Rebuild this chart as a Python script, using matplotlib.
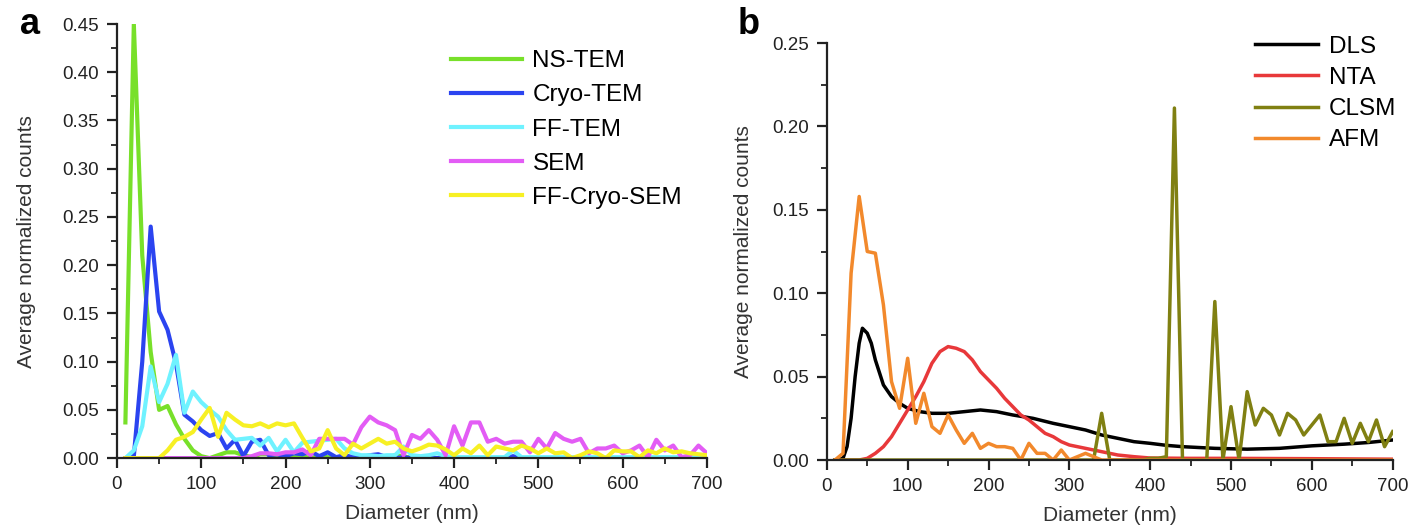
import numpy as np
import matplotlib
matplotlib.use("Agg")
import matplotlib.pyplot as plt
from matplotlib.ticker import MultipleLocator

plt.rcParams['font.family'] = ['Liberation Sans', 'DejaVu Sans']

# panel a: 10 nm bins
diam_a = list(range(10, 710, 10))

ns_tem = [0.037, 0.45, 0.21, 0.11, 0.05, 0.054, 0.035, 0.02, 0.008, 0.002,
          0.0, 0.003, 0.006, 0.006, 0.003, 0.001, 0.004, 0.004, 0.002, 0.003,
          0.001, 0.002, 0.0, 0.002, 0.001, 0.0, 0.001, 0.0, 0.0, 0.001,
          0.0, 0.0, 0.003, 0.002, 0.0, 0.0, 0.0, 0.0, 0.0, 0.0,
          0.0, 0.0, 0.0, 0.0, 0.0, 0.0, 0.0, 0.0, 0.0, 0.0,
          0.0, 0.0, 0.0, 0.0, 0.0, 0.0, 0.0, 0.0, 0.0, 0.0,
          0.0, 0.0, 0.0, 0.0, 0.0, 0.0, 0.0, 0.0, 0.0, 0.0]
cryo_tem = [0.0, 0.002, 0.10, 0.24, 0.152, 0.133, 0.098, 0.045, 0.038, 0.029,
            0.023, 0.026, 0.010, 0.019, 0.002, 0.017, 0.019, 0.003, 0.004, 0.002,
            0.005, 0.004, 0.007, 0.002, 0.006, 0.001, 0.003, 0.001, 0.001, 0.003,
            0.004, 0.001, 0.0, 0.001, 0.0, 0.0, 0.0, 0.0, 0.0, 0.0,
            0.0, 0.0, 0.0, 0.0, 0.0, 0.0, 0.002, 0.0, 0.0, 0.0,
            0.0, 0.0, 0.0, 0.0, 0.0, 0.0, 0.0, 0.0, 0.0, 0.0,
            0.0, 0.0, 0.0, 0.0, 0.0, 0.0, 0.0, 0.0, 0.0, 0.0]
ff_tem = [0.0, 0.008, 0.033, 0.095, 0.058, 0.077, 0.107, 0.047, 0.069, 0.058,
          0.050, 0.043, 0.029, 0.019, 0.020, 0.021, 0.013, 0.021, 0.007, 0.019,
          0.006, 0.016, 0.017, 0.018, 0.019, 0.020, 0.010, 0.005, 0.003, 0.003,
          0.002, 0.003, 0.003, 0.012, 0.003, 0.002, 0.003, 0.005, 0.002, 0.001,
          0.001, 0.001, 0.001, 0.001, 0.001, 0.001, 0.008, 0.001, 0.001, 0.001,
          0.001, 0.001, 0.001, 0.001, 0.001, 0.001, 0.001, 0.001, 0.001, 0.001,
          0.001, 0.001, 0.001, 0.001, 0.001, 0.001, 0.001, 0.001, 0.001, 0.001]
sem = [0.0, 0.0, 0.0, 0.0, 0.0, 0.0, 0.0, 0.0, 0.0, 0.0,
       0.0, 0.0, 0.0, 0.0, 0.0, 0.002, 0.005, 0.005, 0.004, 0.006,
       0.006, 0.009, 0.003, 0.020, 0.020, 0.020, 0.020, 0.014, 0.032, 0.043,
       0.037, 0.034, 0.029, 0.003, 0.024, 0.020, 0.029, 0.019, 0.003, 0.033,
       0.013, 0.037, 0.037, 0.017, 0.020, 0.015, 0.017, 0.017, 0.006, 0.020,
       0.010, 0.026, 0.020, 0.017, 0.020, 0.005, 0.010, 0.010, 0.013, 0.005,
       0.008, 0.013, 0.001, 0.019, 0.008, 0.013, 0.001, 0.003, 0.013, 0.005]
ff_cryo_sem = [0.0, 0.0, 0.0, 0.0, 0.0, 0.008, 0.019, 0.022, 0.027, 0.040,
               0.052, 0.022, 0.047, 0.040, 0.034, 0.033, 0.036, 0.032, 0.036, 0.034,
               0.036, 0.021, 0.007, 0.010, 0.029, 0.010, 0.003, 0.015, 0.010, 0.015,
               0.020, 0.015, 0.017, 0.010, 0.007, 0.010, 0.014, 0.013, 0.009, 0.003,
               0.010, 0.005, 0.013, 0.003, 0.012, 0.010, 0.008, 0.013, 0.010, 0.005,
               0.010, 0.005, 0.006, 0.0, 0.003, 0.007, 0.005, 0.0, 0.008, 0.007,
               0.007, 0.001, 0.008, 0.005, 0.010, 0.006, 0.007, 0.005, 0.004, 0.003]

# panel b
dls_x = [10, 20, 25, 30, 35, 40, 44, 50, 55, 60, 70, 80, 90, 100, 115, 130, 150,
         170, 190, 210, 230, 255, 280, 300, 320, 340, 360, 380, 400, 420, 440,
         460, 480, 520, 560, 600, 640, 670, 700]
dls_y = [0.0, 0.001, 0.008, 0.025, 0.050, 0.070, 0.079, 0.076, 0.070, 0.060,
         0.045, 0.038, 0.034, 0.031, 0.029, 0.028, 0.028, 0.029, 0.030, 0.029,
         0.027, 0.025, 0.022, 0.020, 0.018, 0.015, 0.013, 0.011, 0.010, 0.0088,
         0.008, 0.0075, 0.007, 0.0065, 0.007, 0.0085, 0.0095, 0.0105, 0.012]

nta_x = [10, 40, 50, 60, 70, 80, 90, 100, 110, 120, 130, 140, 150, 160, 170,
         180, 190, 200, 210, 220, 230, 240, 250, 260, 270, 280, 290, 300, 320,
         340, 360, 380, 400, 450, 500, 600, 700]
nta_y = [0.0, 0.0, 0.001, 0.004, 0.008, 0.014, 0.022, 0.030, 0.038, 0.047,
         0.058, 0.065, 0.068, 0.067, 0.065, 0.060, 0.053, 0.048, 0.043, 0.037,
         0.032, 0.027, 0.024, 0.020, 0.016, 0.014, 0.011, 0.009, 0.007, 0.005,
         0.003, 0.002, 0.0012, 0.001, 0.001, 0.0008, 0.0005]

diam_b = list(range(10, 710, 10))
clsm = [0.0] * 33 + [0.028, 0.0, 0.0, 0.0, 0.0, 0.0, 0.001, 0.001, 0.002,
        0.211, 0.0, 0.0, 0.0, 0.0, 0.095, 0.0, 0.032, 0.0, 0.041, 0.021,
        0.031, 0.027, 0.015, 0.028, 0.024, 0.015, 0.021, 0.027, 0.011, 0.011,
        0.025, 0.010, 0.022, 0.011, 0.024, 0.008, 0.017]
afm = [0.0, 0.004, 0.112, 0.158, 0.125, 0.124, 0.093, 0.047, 0.031, 0.061,
       0.022, 0.040, 0.020, 0.016, 0.027, 0.018, 0.010, 0.016, 0.007, 0.010,
       0.008, 0.008, 0.007, 0.0, 0.010, 0.004, 0.004, 0.0, 0.006, 0.0,
       0.002, 0.004, 0.002, 0.0] + [0.0] * 36

fig = plt.figure(figsize=(14.11, 5.29), dpi=100)
ax_a = fig.add_axes([0.0829, 0.134, 0.4181, 0.8206])
ax_b = fig.add_axes([0.586, 0.1304, 0.401, 0.7883])

lw = 3.0
ax_a.plot(diam_a, ns_tem, color='#78e02a', lw=lw, label='NS-TEM')
ax_a.plot(diam_a, cryo_tem, color='#2b44f0', lw=lw, label='Cryo-TEM')
ax_a.plot(diam_a, ff_tem, color='#6ff2ff', lw=lw, label='FF-TEM')
ax_a.plot(diam_a, sem, color='#e35cf5', lw=lw, label='SEM')
ax_a.plot(diam_a, ff_cryo_sem, color='#f7f024', lw=lw, label='FF-Cryo-SEM')
ax_a.set_ylim(0, 0.45)
ax_a.yaxis.set_major_locator(MultipleLocator(0.05))
ax_a.yaxis.set_minor_locator(MultipleLocator(0.025))

lw_b = 2.5
ax_b.plot(dls_x, dls_y, color='black', lw=lw_b, label='DLS')
ax_b.plot(nta_x, nta_y, color='#e8383a', lw=lw_b, label='NTA')
ax_b.plot(diam_b, clsm, color='#808012', lw=lw_b, label='CLSM')
ax_b.plot(diam_b, afm, color='#f2892c', lw=lw_b, label='AFM')
ax_b.set_ylim(0, 0.25)
ax_b.yaxis.set_major_locator(MultipleLocator(0.05))
ax_b.yaxis.set_minor_locator(MultipleLocator(0.025))

for ax, ypad in ((ax_a, 19), (ax_b, 14)):
    ax.set_xlim(0, 700)
    ax.xaxis.set_major_locator(MultipleLocator(100))
    ax.xaxis.set_minor_locator(MultipleLocator(50))
    ax.yaxis.set_major_formatter(plt.FormatStrFormatter('%.2f'))
    ax.spines['top'].set_visible(False)
    ax.spines['right'].set_visible(False)
    for s in ('left', 'bottom'):
        ax.spines[s].set_linewidth(1.6)
        ax.spines[s].set_color('#222222')
    ax.tick_params(which='major', direction='out', length=7, width=1.6,
                   labelsize=13.5, colors='#222222', pad=6)
    ax.tick_params(which='minor', direction='out', length=4, width=1.3,
                   colors='#222222')
    ax.set_xlabel('Diameter (nm)', fontsize=15, color='#333333', labelpad=8)
    ax.set_ylabel('Average normalized counts', fontsize=15, color='#333333',
                  labelpad=ypad)

ax_a.legend(loc='upper right', bbox_to_anchor=(0.995, 0.99), frameon=False,
            fontsize=17.5, handlelength=2.9, handletextpad=0.45,
            labelspacing=0.5)
ax_b.legend(loc='upper right', bbox_to_anchor=(1.045, 1.07), frameon=False,
            fontsize=17.5, handlelength=2.6, handletextpad=0.45,
            labelspacing=0.38)

fig.text(0.014, 0.935, 'a', fontsize=26, fontweight='bold')
fig.text(0.523, 0.935, 'b', fontsize=26, fontweight='bold')

fig.savefig('out.png', dpi=100)
